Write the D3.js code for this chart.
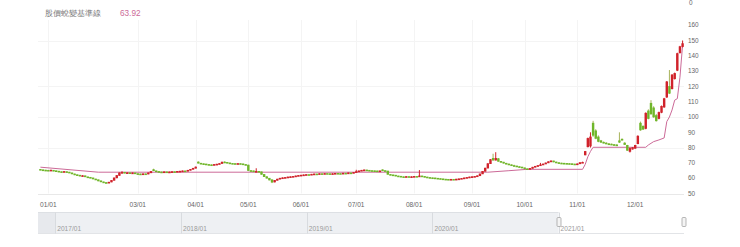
<!DOCTYPE html>
<html>
<head>
<meta charset="utf-8">
<script src="https://cdn.jsdelivr.net/npm/d3@7"></script>
<style>
  body { margin: 0; background: #fff; }
  text { font-family: "Liberation Sans", Arial, sans-serif; }
</style>
</head>
<body>
<script>
// chart box
var width = 740, height = 247;
var plotLeft = 38, plotRight = 684, plotTop = 25, plotBottom = 193.5;

// daily candles, [open, high, low, close]
var candles = [
  [65.8,66.0,65.3,65.5],[65.5,65.7,65.1,65.3],[65.3,65.5,65.0,65.2],[65.2,65.4,64.8,65.0],[64.9,65.5,64.8,65.3],
  [65.2,65.3,64.6,64.8],[64.9,65.0,64.4,64.6],[64.6,64.8,64.1,64.3],[64.3,64.4,63.8,64.0],[64.0,64.6,63.9,64.4],
  [64.3,64.5,63.8,64.0],[64.0,64.1,63.4,63.6],[63.5,63.6,62.6,62.8],[62.8,63.0,62.0,62.2],[62.3,62.5,61.8,62.0],
  [62.0,62.1,61.3,61.5],[61.4,61.9,61.2,61.7],[61.6,61.7,60.7,60.9],[60.9,61.0,60.4,60.6],[60.6,60.8,60.0,60.2],
  [60.2,60.3,59.3,59.5],[59.5,59.6,58.8,59.0],[59.0,59.1,58.0,58.2],[58.3,58.4,57.4,57.6],[57.6,57.8,57.0,57.2],
  [57.2,57.5,56.7,57.0],[57.0,57.6,56.9,57.4],[57.5,58.8,57.4,58.6],[58.6,60.4,58.5,60.2],[60.2,62.0,60.0,61.8],
  [61.8,63.8,61.6,63.5],[63.5,64.6,63.3,63.8],[63.9,64.0,63.2,63.4],[63.3,63.8,63.2,63.6],[63.6,63.7,63.0,63.2],
  [63.2,63.7,63.1,63.5],[63.5,63.6,62.8,63.0],[63.0,63.2,62.6,62.8],[62.8,63.0,62.4,62.6],[62.6,63.1,62.5,62.9],
  [62.9,63.0,62.5,62.7],[62.7,63.7,62.6,63.5],[63.5,64.6,63.4,64.4],[65.6,66.2,64.8,64.9],[64.8,65.0,64.2,64.4],
  [64.4,64.5,63.9,64.1],[64.1,64.3,63.8,64.0],[64.0,64.4,63.9,64.2],[64.2,64.3,63.7,63.9],[63.9,64.3,63.8,64.1],
  [64.1,64.5,64.0,64.3],[64.3,64.4,64.0,64.2],[64.2,64.7,64.1,64.5],[64.5,64.8,64.4,64.6],[64.6,65.0,64.5,64.8],
  [64.8,64.9,64.4,64.6],[64.6,65.4,64.5,65.2],[65.2,66.0,65.1,65.8],[65.8,66.7,65.7,66.5],[66.5,67.6,66.4,67.3],
  [70.6,71.0,69.6,69.8],[69.8,70.0,69.3,69.5],[69.5,69.6,69.1,69.3],[69.3,69.4,68.8,69.0],[69.0,69.2,68.6,68.8],
  [68.8,69.0,68.4,68.6],[68.6,69.2,68.5,69.0],[69.0,69.4,68.9,69.2],[69.2,69.8,69.1,69.6],[69.6,70.8,69.5,70.5],
  [70.6,71.0,70.2,70.4],[70.4,70.5,69.8,70.0],[70.0,70.2,69.5,69.7],[69.7,69.9,69.4,69.6],[69.6,69.7,69.3,69.5],
  [69.5,69.8,69.4,69.6],[69.6,69.7,69.2,69.4],[69.4,69.5,68.8,69.0],[69.0,69.1,68.4,68.6],[68.6,68.8,64.8,65.0],
  [65.0,65.3,64.6,64.8],[64.8,65.0,64.3,64.5],[64.0,66.5,63.9,64.5],[64.5,64.6,64.0,64.2],[64.2,64.3,62.3,62.5],
  [62.5,62.6,60.8,61.0],[61.0,61.2,59.8,60.0],[60.0,60.1,58.6,58.8],[59.0,59.2,56.8,57.4],[57.5,58.8,57.3,58.6],
  [58.6,59.6,58.5,59.4],[59.4,60.2,59.3,60.0],[60.0,60.5,59.9,60.3],[60.3,60.7,60.2,60.5],[60.5,61.0,60.4,60.8],
  [60.8,61.2,60.7,61.0],[61.0,61.4,60.9,61.2],[61.2,61.7,61.1,61.5],[61.5,62.0,61.4,61.8],[61.8,62.2,61.7,62.0],
  [62.0,62.4,61.9,62.2],[62.2,62.6,62.1,62.4],[62.4,62.5,62.1,62.3],[62.3,62.8,62.2,62.6],[62.6,63.0,62.5,62.8],
  [62.8,62.9,62.5,62.7],[62.7,63.2,62.6,63.0],[63.0,63.1,62.7,62.9],[62.9,63.3,62.8,63.1],[63.1,63.2,62.8,63.0],
  [63.0,63.1,62.6,62.8],[62.8,63.2,62.7,63.0],[63.0,63.4,62.9,63.2],[63.2,63.3,62.9,63.1],[63.1,63.2,62.8,63.0],
  [63.0,63.5,62.9,63.3],[63.3,63.4,63.0,63.2],[63.2,63.7,63.1,63.5],[63.5,63.6,63.2,63.4],[63.4,64.0,63.3,63.8],
  [63.8,65.5,63.7,64.3],[64.3,65.0,64.2,64.8],[64.8,65.4,64.7,65.2],[65.2,65.7,65.1,65.4],[65.4,65.5,65.0,65.2],
  [65.2,65.3,64.8,65.0],[65.0,65.1,64.7,64.9],[64.9,65.0,64.6,64.8],[64.8,64.9,64.5,64.7],[64.7,65.0,64.6,64.8],
  [65.5,65.8,64.8,65.0],[65.0,65.1,64.5,64.7],[64.7,64.8,62.3,62.5],[62.5,62.6,62.0,62.2],[62.2,62.3,61.8,62.0],
  [62.0,62.1,61.3,61.5],[61.5,61.6,61.1,61.3],[61.3,61.4,60.8,61.0],[61.0,61.1,60.7,60.9],[60.9,61.3,60.8,61.1],
  [61.1,61.2,60.6,60.8],[60.8,61.2,60.7,61.0],[61.0,61.4,60.9,61.2],[61.2,61.3,60.8,61.0],[61.0,65.3,60.9,61.5],
  [61.5,61.6,61.0,61.2],[61.2,61.3,60.6,60.8],[60.8,60.9,60.3,60.5],[60.5,60.6,60.1,60.3],[60.3,60.4,60.0,60.2],
  [60.2,60.3,59.8,60.0],[60.0,60.1,59.6,59.8],[59.8,59.9,59.4,59.6],[59.6,59.7,59.2,59.4],[59.4,59.5,59.1,59.3],
  [59.3,59.4,59.0,59.2],[59.2,59.5,59.1,59.3],[59.3,59.4,59.0,59.2],[59.2,59.6,59.1,59.4],[59.4,59.8,59.3,59.6],
  [59.6,60.1,59.5,59.9],[59.9,60.4,59.8,60.2],[60.2,60.7,60.1,60.5],[60.5,61.0,60.4,60.8],[60.8,61.2,60.7,61.0],
  [61.0,61.4,60.9,61.2],[61.2,61.8,61.1,61.6],[61.6,63.0,61.5,62.8],[62.8,64.7,62.7,64.5],[64.5,66.8,64.4,66.6],
  [66.6,69.8,66.5,69.5],[69.5,72.5,69.3,72.2],[73.0,76.0,71.5,71.8],[71.8,77.0,71.6,73.0],[72.8,73.2,70.8,71.0],
  [71.0,71.2,70.3,70.5],[70.5,70.7,69.6,69.8],[69.8,70.0,69.1,69.3],[69.3,69.5,68.6,68.8],[68.8,69.0,68.1,68.3],
  [68.3,68.8,67.8,68.0],[68.0,68.1,67.4,67.6],[67.6,67.8,67.1,67.3],[67.3,67.4,66.6,66.8],[66.8,66.9,66.0,66.2],
  [66.2,66.3,65.6,65.9],[65.9,66.6,65.8,66.4],[66.4,67.4,66.3,67.2],[67.2,68.0,67.1,67.8],[67.8,68.5,67.7,68.3],
  [68.3,70.0,68.2,68.8],[68.8,69.5,68.7,69.3],[69.3,70.2,69.2,70.0],[70.0,71.0,69.9,70.8],[70.8,71.6,70.7,71.3],
  [71.3,71.4,70.4,70.6],[70.6,70.8,70.0,70.2],[70.2,70.3,69.7,69.9],[69.9,70.1,69.6,69.8],[69.8,70.0,69.5,69.7],
  [69.7,69.9,69.4,69.6],[69.6,69.8,69.3,69.5],[69.5,69.6,69.1,69.3],[69.3,69.4,68.8,69.0],[69.0,69.6,68.9,69.4],
  [69.4,70.4,69.3,70.2],[70.1,70.8,70.0,70.4],[75.2,77.8,75.0,77.5],[80.5,86.5,80.2,86.0],[81.0,90.0,80.0,87.0],
  [96.0,97.5,87.0,88.0],[91.0,92.0,85.5,86.0],[87.0,88.0,83.5,84.0],[84.5,85.0,83.0,83.5],[83.5,84.0,82.8,83.0],
  [83.0,83.5,82.3,82.5],[82.5,83.0,82.0,82.3],[82.3,82.6,81.7,82.0],[82.0,82.3,81.5,81.8],[81.8,82.2,81.4,81.7],
  [84.5,90.0,83.0,83.5],[85.5,86.0,84.6,85.0],[83.0,83.5,81.8,82.0],[81.5,81.8,77.8,78.2],[77.5,80.0,76.8,79.5],
  [79.0,80.3,78.7,80.0],[79.5,81.8,79.3,81.5],[82.5,88.0,82.3,87.5],[96.0,97.0,91.0,91.5],[94.0,94.5,91.5,92.0],
  [92.5,103.0,92.0,102.5],[104.0,105.0,98.5,99.0],[109.0,111.0,101.5,102.0],[106.0,107.0,99.5,100.0],[101.0,102.0,97.0,97.5],
  [99.0,103.5,98.5,103.0],[103.0,107.5,102.5,107.0],[106.5,112.5,106.0,112.0],[113.0,123.5,112.5,123.0],[120.0,130.7,115.0,115.5],
  [118.5,128.0,118.0,127.5],[125.0,129.0,124.5,128.5],[130.5,142.0,130.0,141.5],[142.0,146.5,141.5,146.0],[146.0,150.0,145.5,148.0]
];

// baseline line vertices (candle index, value)
var baseIdx = [0, 22, 170, 178, 185, 206, 207, 208, 209, 210, 230, 231, 233, 235, 237, 238, 239, 240, 241, 242, 243, 244];
var baseVal = [67.2, 63.92, 63.92, 64.9, 65.8, 65.8, 69, 74, 77.5, 80.2, 80.2, 81.7, 83.9, 85, 86.3, 97, 100, 104.6, 111, 112, 126, 147];

var monthLabels = ["01/01","03/01","04/01","05/01","06/01","07/01","08/01","09/01","10/01","11/01","12/01"];
var monthIdx = [3, 37, 59, 79, 99, 120, 142, 164, 184, 204, 226];
var yTicks = [50, 60, 70, 80, 90, 100, 110, 120, 130, 140, 150, 160];
var gridVals = [50, 80, 100, 120, 150];

var legendName = "股價蛻變基準線";
var legendValue = "63.92";

var yearLabels = ["2017/01","2018/01","2019/01","2020/01","2021/01"];
var yearDates = [new Date(2017,0,1), new Date(2018,0,1), new Date(2019,0,1), new Date(2020,0,1), new Date(2021,0,1)];
var navStart = new Date(2016,10,12), navEnd = new Date(2021,11,31);
var selStart = new Date(2021,0,1);

var upColor = "#d0222b", downColor = "#6fb62a", downWick = "#a9b45c", lineColor = "#cc6a98";

var svg = d3.select("body").append("svg")
  .attr("width", width).attr("height", height);

var x = d3.scaleBand()
  .domain(d3.range(candles.length))
  .range([plotLeft + 1, plotRight])
  .padding(0.08);
var cx = function(i) { return x(i) + x.bandwidth() / 2; };

var y = d3.scaleLinear().domain([50, 160]).range([plotBottom, plotTop + 0.2]);

// grid
svg.append("g").selectAll("line").data(gridVals).enter().append("line")
  .attr("x1", plotLeft).attr("x2", plotRight)
  .attr("y1", function(d) { return Math.round(y(d)) + 0.5; })
  .attr("y2", function(d) { return Math.round(y(d)) + 0.5; })
  .attr("stroke", function(d) { return d == 50 ? "#e8e8e8" : "#f4f4f4"; });

svg.append("g").selectAll("line").data(monthIdx).enter().append("line")
  .attr("x1", function(d) { return Math.round(cx(d)) + 0.5; })
  .attr("x2", function(d) { return Math.round(cx(d)) + 0.5; })
  .attr("y1", 20).attr("y2", plotBottom)
  .attr("stroke", "#f4f4f4");

// baseline
var line = d3.line()
  .x(function(d, k) { return cx(d); })
  .y(function(d, k) { return y(baseVal[k]); });
svg.append("path")
  .datum(baseIdx)
  .attr("d", line)
  .attr("fill", "none")
  .attr("stroke", lineColor)
  .attr("stroke-width", 1);

// candles
var g = svg.append("g").selectAll("g").data(candles).enter().append("g");
g.append("line")
  .attr("x1", function(d, i) { return cx(i); })
  .attr("x2", function(d, i) { return cx(i); })
  .attr("y1", function(d) { return y(d[1]); })
  .attr("y2", function(d) { return y(d[2]); })
  .attr("stroke", function(d) { return d[3] >= d[0] ? upColor : downWick; })
  .attr("stroke-width", 1);
g.append("rect")
  .attr("x", function(d, i) { return x(i); })
  .attr("width", x.bandwidth())
  .attr("y", function(d) { return y(Math.max(d[0], d[3])) - 0.3; })
  .attr("height", function(d) { return Math.max(1.6, Math.abs(y(d[0]) - y(d[3])) + 0.6); })
  .attr("fill", function(d) { return d[3] >= d[0] ? upColor : downColor; });

// y axis labels (right side)
svg.append("g").selectAll("text").data(yTicks).enter().append("text")
  .attr("x", 688).attr("y", function(d) { return y(d) + 2.2; })
  .attr("font-size", "6.4px").attr("fill", "#666")
  .text(function(d) { return d; });
svg.append("text").attr("x", 689).attr("y", 5)
  .attr("font-size", "6.4px").attr("fill", "#666").text("0");

// month labels
svg.append("g").selectAll("text").data(monthLabels).enter().append("text")
  .attr("x", function(d, k) { return cx(monthIdx[k]); })
  .attr("y", 206.5)
  .attr("text-anchor", "middle")
  .attr("font-size", "6.6px").attr("fill", "#666")
  .text(function(d) { return d; });

// legend
svg.append("text").attr("x", 45).attr("y", 16)
  .attr("font-family", "'Noto Sans CJK TC', sans-serif")
  .attr("font-size", "8.4px").attr("fill", "#777")
  .text(legendName);
svg.append("text").attr("x", 120).attr("y", 16)
  .attr("font-size", "8.2px").attr("fill", lineColor)
  .text(legendValue);

// navigator
var nx = d3.scaleTime().domain([navStart, navEnd]).range([plotLeft, plotRight]);
var navTop = 212.5, navBot = 233.5;
svg.append("rect")
  .attr("x", plotLeft).attr("y", navTop)
  .attr("width", nx(selStart) - plotLeft).attr("height", navBot - navTop)
  .attr("fill", "#eef0f3");
svg.append("rect")
  .attr("x", plotLeft).attr("y", navTop)
  .attr("width", nx(yearDates[0]) - plotLeft).attr("height", navBot - navTop)
  .attr("fill", "#e7e9ed");
svg.append("line")
  .attr("x1", plotLeft).attr("x2", nx(selStart)).attr("y1", navTop).attr("y2", navTop)
  .attr("stroke", "#dde0e4");
svg.append("line")
  .attr("x1", plotLeft).attr("x2", plotRight).attr("y1", navBot).attr("y2", navBot)
  .attr("stroke", "#e2e4e7");
svg.append("g").selectAll("line").data(yearDates).enter().append("line")
  .attr("x1", function(d) { return Math.round(nx(d)) + 0.5; })
  .attr("x2", function(d) { return Math.round(nx(d)) + 0.5; })
  .attr("y1", navTop).attr("y2", navBot)
  .attr("stroke", "#d8dbdf");
svg.append("g").selectAll("text").data(yearLabels).enter().append("text")
  .attr("x", function(d, k) { return nx(yearDates[k]) + 2; })
  .attr("y", 231)
  .attr("font-size", "6.6px").attr("fill", "#9a9a9a")
  .text(function(d) { return d; });

// handles
svg.append("g").selectAll("rect").data([nx(selStart), plotRight]).enter().append("rect")
  .attr("x", function(d) { return Math.round(d) - 2; })
  .attr("y", 217.5).attr("width", 4).attr("height", 9)
  .attr("rx", 1)
  .attr("fill", "#f4f4f4").attr("stroke", "#999").attr("stroke-width", 0.7);
</script>
</body>
</html>
